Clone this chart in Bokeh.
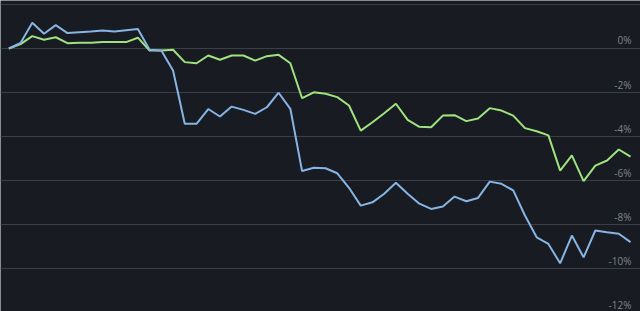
from bokeh.plotting import figure
from bokeh.models import Range1d, FixedTicker
from bokeh.embed import file_html
from bokeh.resources import INLINE
from bokeh.core.properties import value

# Cumulative return (%) per period
blue = [0.0, 0.25, 1.17, 0.67, 1.06, 0.70, 0.74, 0.77, 0.82, 0.77,
        0.83, 0.88, -0.06, -0.09, -1.00, -3.42, -3.42, -2.75, -3.09, -2.64,
        -2.79, -2.97, -2.67, -2.01, -2.74, -5.57, -5.42, -5.44, -5.67, -6.33,
        -7.14, -6.99, -6.60, -6.10, -6.60, -7.05, -7.29, -7.18, -6.73, -6.94,
        -6.79, -6.05, -6.15, -6.45, -7.59, -8.58, -8.88, -9.76, -8.50, -9.49,
        -8.27, -8.35, -8.42, -8.80]
green = [0.0, 0.20, 0.56, 0.40, 0.51, 0.24, 0.26, 0.26, 0.29, 0.29,
         0.29, 0.49, -0.09, -0.09, -0.06, -0.62, -0.67, -0.32, -0.51, -0.32,
         -0.32, -0.55, -0.35, -0.29, -0.67, -2.26, -1.99, -2.06, -2.21, -2.59,
         -3.73, -3.35, -2.94, -2.51, -3.24, -3.56, -3.58, -3.05, -3.03, -3.30,
         -3.18, -2.71, -2.82, -3.05, -3.62, -3.76, -3.95, -5.55, -4.86, -6.03,
         -5.32, -5.09, -4.59, -4.91]
periods = list(range(len(blue)))
tick_values = [2, 0, -2, -4, -6, -8, -10, -12]
tick_labels = ["", "0%", "-2%", "-4%", "-6%", "-8%", "-10%", "-12%"]

BG = "#181b22"

p = figure(width=640, height=311, output_backend="svg", toolbar_location=None,
           x_range=Range1d(-0.71, len(blue) - 1 + 0.85), y_range=Range1d(-11.95, 2.18),
           background_fill_color=BG, border_fill_color=BG,
           min_border_left=0, min_border_right=0, min_border_top=0, min_border_bottom=0)
p.outline_line_color = None
p.xaxis.visible = False
p.yaxis.visible = False
p.xgrid.visible = False
p.ygrid.ticker = FixedTicker(ticks=tick_values)
p.ygrid.grid_line_color = "#3b3e46"
p.ygrid.grid_line_width = 1

p.line(periods, green, line_color="#9fe37f", line_width=2)
p.line(periods, blue, line_color="#86b4e3", line_width=2)

p.text(x=[periods[-1]] * len(tick_values), y=tick_values, text=tick_labels,
       text_align="right", text_baseline="bottom", y_offset=-1, x_offset=1,
       text_color="#80848c", text_font_size="10px", text_font=value("Open Sans"))

open("out.html", "w").write(file_html(p, INLINE))
